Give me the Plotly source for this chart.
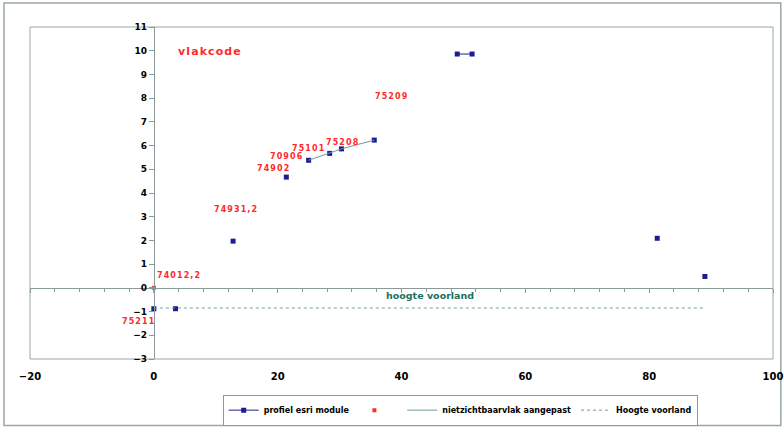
import plotly.graph_objects as go

# ---- data ----
profiel_x = [0.0, None, 3.5, None, 12.8, None, 21.4, None, 25.0, None, 28.4, None, 30.3, None, 35.6, None, 49.0, 51.4, None, 81.3, None, 89.0]
profiel_y = [-0.88, None, -0.88, None, 1.97, None, 4.67, None, 5.38, None, 5.67, None, 5.86, None, 6.23, None, 9.86, 9.86, None, 2.09, None, 0.48]

red_x = [0.0]
red_y = [0.0]

nzb_x = [25.0, 28.4, 30.3, 35.6]
nzb_y = [5.38, 5.67, 5.86, 6.23]

voorland_x = [0.0, 89.0]
voorland_y = [-0.85, -0.85]

label_text = ["vlakcode", "75209", "75208", "75101", "70906", "74902", "74931,2", "74012,2", "75211"]
label_x = [9.0, 38.4, 30.4, 24.9, 21.5, 19.4, 13.2, 4.0, -2.4]
label_y = [9.96, 8.06, 6.14, 5.86, 5.52, 5.04, 3.3, 0.51, -1.43]
label_size = [11, 8, 8, 8, 8, 8, 8, 8, 8]

x_range = [-20, 100]
y_range = [-3, 11]
x_ticks = [-20, 0, 20, 40, 60, 80, 100]
y_ticks = list(range(-3, 12))

FONT = "DejaVu Sans"
BLUE = "#1c1c96"
RED = "#ff2a2a"
TEAL = "#6f9c9c"
AXIS = "#8a9a9a"

fig = go.Figure()

fig.add_trace(go.Scatter(
    x=profiel_x, y=profiel_y, mode="lines+markers", name="profiel esri module",
    connectgaps=False,
    line=dict(color=BLUE, width=1),
    marker=dict(symbol="square", size=5, color=BLUE),
))
fig.add_trace(go.Scatter(
    x=red_x, y=red_y, mode="markers", name=" ",
    marker=dict(symbol="square", size=4, color=RED),
))
fig.add_trace(go.Scatter(
    x=nzb_x, y=nzb_y, mode="lines", name="nietzichtbaarvlak aangepast",
    line=dict(color=TEAL, width=1),
))
fig.add_trace(go.Scatter(
    x=voorland_x, y=voorland_y, mode="lines", name="Hoogte voorland",
    xaxis="x2", yaxis="y",
    line=dict(color=TEAL, width=1, dash="dot"),
))

# y axis sits at x = 0, x axis line sits at y = 0
y_axis_pos = (0 - x_range[0]) / (x_range[1] - x_range[0])
x_axis_pos = (0 - y_range[0]) / (y_range[1] - y_range[0])

for t, xv, yv, sz in zip(label_text, label_x, label_y, label_size):
    fig.add_annotation(
        x=xv, y=yv, xref="x", yref="y", showarrow=False,
        text=f'<span style="letter-spacing:1.1px">{t}</span>',
        font=dict(family=FONT, size=sz, color=RED, weight="bold"),
    )

fig.add_annotation(
    x=44.6, y=-0.33, xref="x", yref="y", showarrow=False,
    text="hoogte voorland",
    font=dict(family=FONT, size=9.5, color="#1a7060", weight="bold"),
)

# plot frame and outer chart border
fig.add_shape(type="rect", xref="paper", yref="paper", x0=0, x1=1, y0=0, y1=1,
              line=dict(color="#9aa6a6", width=1), layer="below")
fig.add_shape(type="rect", xref="paper", yref="paper",
              x0=-0.035, x1=1.0105, y0=-0.20, y1=1.072,
              line=dict(color="#9aa6a6", width=1.5), layer="below")

fig.update_layout(
    width=784, height=429,
    margin=dict(l=30, r=11, t=27, b=70, autoexpand=False),
    paper_bgcolor="white", plot_bgcolor="white",
    font=dict(family=FONT, color="black"),
    showlegend=True,
    legend=dict(
        orientation="h", x=0.579, y=-0.154, xanchor="center", yanchor="middle",
        bordercolor="#8a9a9a", borderwidth=1, bgcolor="white",
        font=dict(family=FONT, size=8, weight="bold"),
        itemwidth=30, tracegroupgap=0,
    ),
    xaxis=dict(
        range=x_range, tickvals=x_ticks, showline=False, ticks="",
        showgrid=False, zeroline=False, ticklabelstandoff=10, automargin=False,
        tickfont=dict(family=FONT, size=10, weight="bold"),
    ),
    xaxis2=dict(
        range=x_range, overlaying="x", anchor="free", position=x_axis_pos,
        showline=True, linecolor=AXIS, linewidth=1, automargin=False,
        ticks="outside", ticklen=4, tickcolor=AXIS, dtick=20, tick0=0,
        showticklabels=False, showgrid=False, zeroline=False,
        minor=dict(dtick=4, ticks="outside", ticklen=3, tickcolor=AXIS, showgrid=False),
    ),
    yaxis=dict(
        range=y_range, tickvals=y_ticks, anchor="free", position=y_axis_pos,
        showline=True, linecolor=AXIS, linewidth=1, automargin=False,
        ticks="outside", ticklen=5, tickcolor=AXIS,
        showgrid=False, zeroline=False,
        tickfont=dict(family=FONT, size=9, weight="bold"),
    ),
)

fig.write_html(
    "out.html",
    config={"displayModeBar": False},
    post_script="document.body.style.margin='0';document.body.style.overflow='hidden';",
)
